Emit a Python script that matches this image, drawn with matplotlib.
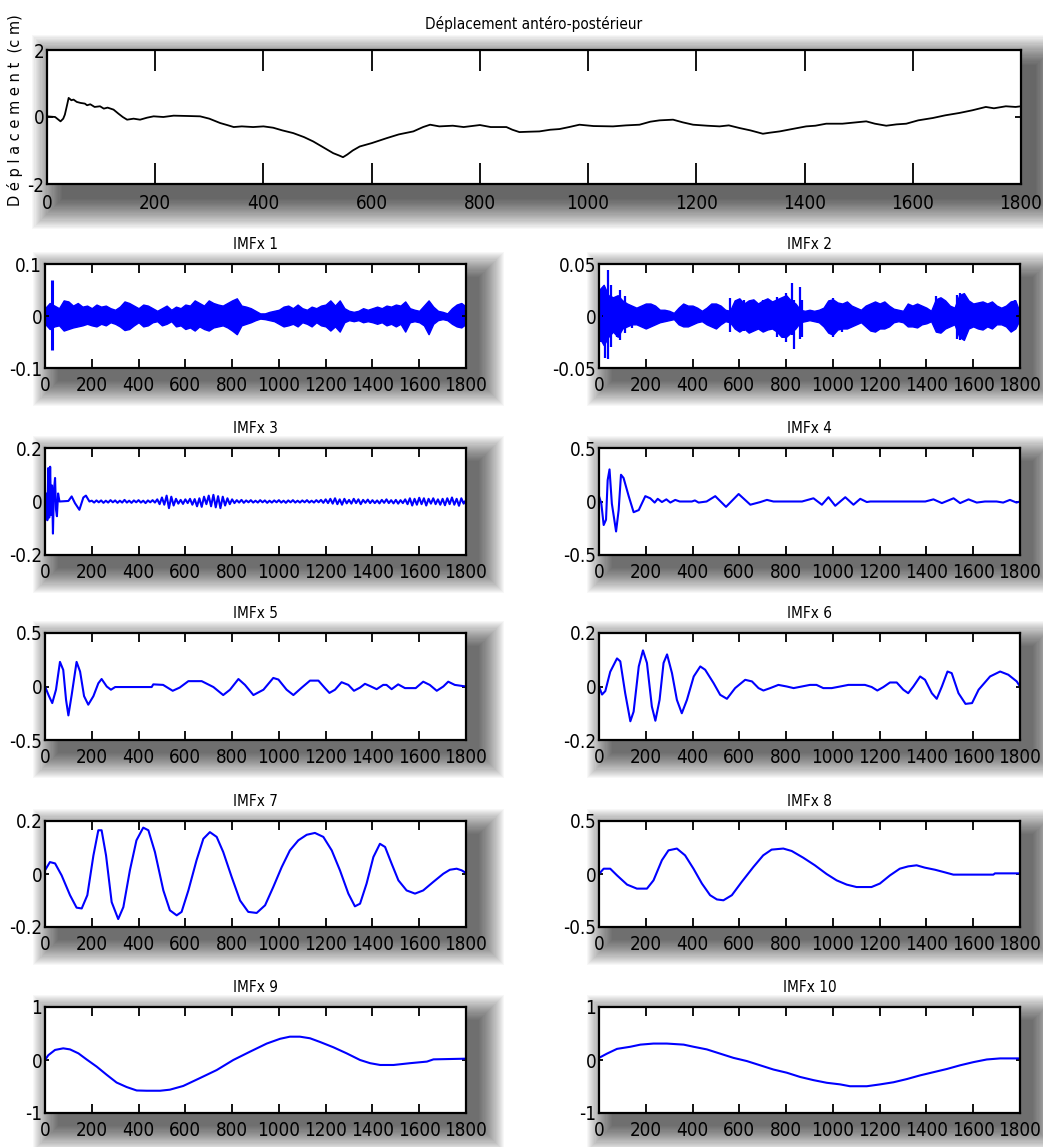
import numpy as np
import matplotlib
matplotlib.use("Agg")
import matplotlib.pyplot as plt
from matplotlib.patches import Rectangle
from matplotlib import font_manager as fm

# ---------------- data ----------------
top_title = "Déplacement antéro-postérieur"
top_ylabel = "D é p l a c e m e n t  (c m)"
x_ticks = [0, 200, 400, 600, 800, 1000, 1200, 1400, 1600, 1800]
x_ticklabels = ["0", "200", "400", "600", "800", "1000", "1200", "1400", "1600", "1800"]

top_t = [0, 15, 25, 30, 33, 37, 40, 45, 49, 55,
         62, 70, 74, 80, 88, 98, 105, 112, 123, 132,
         140, 148, 160, 172, 185, 197, 215, 234, 260, 283,
         300, 320, 335, 345, 360, 381, 400, 418, 435, 455,
         475, 492, 510, 529, 540, 547, 555, 565, 578, 600,
         628, 650, 677, 695, 708, 725, 750, 770, 800, 820,
         849, 860, 873, 890, 910, 930, 947, 965, 984, 1010,
         1046, 1070, 1095, 1115, 1132, 1157, 1175, 1194, 1220, 1243,
         1260, 1280, 1300, 1323, 1335, 1354, 1380, 1403, 1420, 1440,
         1470, 1514, 1530, 1551, 1570, 1588, 1610, 1637, 1660, 1686,
         1710, 1735, 1750, 1772, 1790, 1800]
top_v = [0.02, 0.0, -0.13, -0.05, 0.07, 0.35, 0.57, 0.5, 0.52, 0.45,
         0.42, 0.4, 0.35, 0.38, 0.3, 0.32, 0.25, 0.28, 0.22, 0.1,
         0.0, -0.08, -0.05, -0.08, -0.02, 0.02, 0.0, 0.04, 0.03, 0.02,
         -0.05, -0.18, -0.25, -0.3, -0.28, -0.3, -0.28, -0.32, -0.4, -0.48,
         -0.6, -0.73, -0.9, -1.08, -1.15, -1.2, -1.12, -1.0, -0.88, -0.78,
         -0.63, -0.52, -0.43, -0.3, -0.23, -0.28, -0.26, -0.3, -0.24, -0.3,
         -0.3, -0.38, -0.45, -0.44, -0.43, -0.38, -0.36, -0.3, -0.23, -0.27,
         -0.28, -0.25, -0.23, -0.14, -0.1, -0.08, -0.16, -0.23, -0.26, -0.28,
         -0.25, -0.33, -0.4, -0.5, -0.47, -0.43, -0.35, -0.28, -0.26, -0.2,
         -0.2, -0.13, -0.2, -0.26, -0.22, -0.2, -0.1, -0.03, 0.05, 0.12,
         0.2, 0.3, 0.26, 0.32, 0.3, 0.32]

imf_titles = ["IMFx 1", "IMFx 2", "IMFx 3", "IMFx 4", "IMFx 5",
              "IMFx 6", "IMFx 7", "IMFx 8", "IMFx 9", "IMFx 10"]
imf_ylims = [0.1, 0.05, 0.2, 0.5, 0.5, 0.2, 0.2, 0.5, 1.0, 1.0]
imf_yticklabels = [["-0.1", "0", "0.1"], ["-0.05", "0", "0.05"], ["-0.2", "0", "0.2"],
                   ["-0.5", "0", "0.5"], ["-0.5", "0", "0.5"], ["-0.2", "0", "0.2"],
                   ["-0.2", "0", "0.2"], ["-0.5", "0", "0.5"], ["-1", "0", "1"], ["-1", "0", "1"]]

# IMF 1 and 2: envelopes of the dense oscillation, sampled every 20 points
band_t = list(range(0, 1801, 20))
imf1_upper = [0.015, 0.025, 0.02, 0.015, 0.03, 0.028, 0.02, 0.025, 0.018, 0.02,
              0.015, 0.022, 0.018, 0.02, 0.015, 0.012, 0.018, 0.028, 0.025, 0.02,
              0.015, 0.022, 0.02, 0.015, 0.01, 0.015, 0.02, 0.012, 0.018, 0.015,
              0.022, 0.02, 0.03, 0.025, 0.02, 0.03, 0.025, 0.022, 0.02, 0.025,
              0.03, 0.034, 0.02, 0.018, 0.015, 0.01, 0.005, 0.005, 0.008, 0.01,
              0.012, 0.018, 0.02, 0.015, 0.022, 0.015, 0.012, 0.018, 0.015, 0.02,
              0.022, 0.03, 0.02, 0.03, 0.015, 0.01, 0.008, 0.01, 0.015, 0.012,
              0.015, 0.018, 0.015, 0.02, 0.018, 0.022, 0.02, 0.028, 0.015, 0.012,
              0.01, 0.02, 0.03, 0.018, 0.01, 0.008, 0.005, 0.015, 0.022, 0.025,
              0.018]
imf1_lower = [-0.015, -0.025, -0.02, -0.018, -0.028, -0.025, -0.022, -0.02, -0.018, -0.015,
              -0.018, -0.02, -0.015, -0.018, -0.012, -0.015, -0.02, -0.027, -0.025, -0.018,
              -0.012, -0.02, -0.018, -0.012, -0.01, -0.018, -0.015, -0.01, -0.02, -0.018,
              -0.025, -0.022, -0.028, -0.02, -0.025, -0.028, -0.022, -0.02, -0.018, -0.022,
              -0.028, -0.035, -0.018, -0.015, -0.012, -0.008, -0.005, -0.006, -0.008, -0.01,
              -0.015, -0.02, -0.018, -0.015, -0.02, -0.012, -0.015, -0.02, -0.012, -0.018,
              -0.02, -0.028, -0.02, -0.03, -0.012, -0.008, -0.01, -0.008, -0.012, -0.01,
              -0.012, -0.015, -0.012, -0.018, -0.015, -0.02, -0.015, -0.03, -0.012, -0.01,
              -0.012, -0.018, -0.035, -0.015, -0.008, -0.006, -0.008, -0.015, -0.02, -0.022,
              -0.015]
imf1_spike_t = [30]
imf1_spike_lo = [-0.065]
imf1_spike_hi = [0.07]

imf2_upper = [0.025, 0.03, 0.02, 0.018, 0.02, 0.015, 0.012, 0.01, 0.008, 0.01,
              0.012, 0.012, 0.01, 0.006, 0.006, 0.005, 0.003, 0.008, 0.012, 0.01,
              0.01, 0.008, 0.005, 0.008, 0.012, 0.012, 0.01, 0.006, 0.005, 0.015,
              0.017, 0.012, 0.015, 0.016, 0.012, 0.015, 0.017, 0.014, 0.016, 0.018,
              0.02, 0.015, 0.012, 0.006, 0.005, 0.006, 0.005, 0.006, 0.008, 0.015,
              0.016, 0.013, 0.012, 0.014, 0.01, 0.008, 0.006, 0.01, 0.012, 0.014,
              0.012, 0.014, 0.01, 0.007, 0.006, 0.005, 0.012, 0.01, 0.012, 0.01,
              0.008, 0.005, 0.016, 0.018, 0.015, 0.01, 0.008, 0.02, 0.022, 0.015,
              0.012, 0.013, 0.014, 0.012, 0.014, 0.01, 0.008, 0.01, 0.014, 0.015,
              0.003]
imf2_lower = [-0.02, -0.028, -0.02, -0.015, -0.02, -0.012, -0.01, -0.008, -0.008, -0.01,
              -0.012, -0.01, -0.008, -0.006, -0.005, -0.004, -0.003, -0.008, -0.01, -0.01,
              -0.008, -0.006, -0.005, -0.008, -0.01, -0.012, -0.008, -0.005, -0.006, -0.012,
              -0.015, -0.012, -0.016, -0.014, -0.012, -0.015, -0.013, -0.012, -0.015, -0.02,
              -0.02, -0.016, -0.012, -0.006, -0.005, -0.004, -0.005, -0.006, -0.01, -0.016,
              -0.018, -0.013, -0.012, -0.012, -0.01, -0.008, -0.006, -0.01, -0.014, -0.015,
              -0.012, -0.012, -0.01, -0.006, -0.005, -0.006, -0.01, -0.01, -0.011, -0.008,
              -0.007, -0.005, -0.015, -0.016, -0.012, -0.01, -0.008, -0.02, -0.023, -0.012,
              -0.01, -0.012, -0.013, -0.01, -0.012, -0.008, -0.008, -0.01, -0.015, -0.012,
              -0.003]
imf2_spike_t = [10, 25, 40, 50, 75, 90, 110, 140, 560, 620, 700, 760, 790, 800,
                825, 835, 860, 870, 1000, 1040, 1440, 1530, 1545, 1780]
imf2_spike_lo = [-0.025, -0.04, -0.041, -0.03, -0.02, -0.023, -0.016, -0.012, -0.015, -0.014,
                 -0.012, -0.02, -0.015, -0.025, -0.018, -0.032, -0.022, -0.02, -0.02, -0.015,
                 -0.012, -0.022, -0.023, -0.01]
imf2_spike_hi = [0.025, 0.025, 0.044, 0.03, 0.018, 0.025, 0.019, 0.01, 0.017, 0.015,
                 0.015, 0.018, 0.015, 0.022, 0.032, 0.015, 0.028, 0.015, 0.017, 0.012,
                 0.019, 0.02, 0.022, 0.015]

# IMF 3
imf3_head_t = [0, 5, 10, 14, 18, 22, 26, 30, 34, 38, 43, 47, 51, 56, 62,
               100, 114, 128, 147, 164, 175, 190]
imf3_head_v = [0, 0.03, -0.07, 0.125, -0.06, 0.13, -0.05, 0.06, -0.12, 0.04, 0.088, -0.03, -0.055, 0.03, 0,
               0.002, 0.019, -0.006, -0.031, 0.015, 0.022, 0]
imf3_body_t = list(range(200, 1801, 10))
imf3_body_v = [0.003, -0.004, 0.004, -0.003, 0.004, -0.005, 0.003, -0.004, 0.005, -0.003,
               0.004, -0.005, 0.003, -0.004, 0.006, -0.004, 0.003, -0.005, 0.004, -0.003,
               0.005, -0.004, 0.003, -0.006, 0.004, -0.003, 0.005, -0.004, 0.008, -0.010,
               0.015, -0.012, 0.022, -0.025, 0.018, -0.015, 0.010, -0.008, 0.006, -0.009,
               0.008, -0.006, 0.010, -0.012, 0.009, -0.018, 0.012, -0.020, 0.018, -0.010,
               0.022, -0.018, 0.025, -0.022, 0.020, -0.025, 0.018, -0.015, 0.012, -0.010,
               0.008, -0.006, 0.005, -0.004, 0.006, -0.005, 0.004, -0.003, 0.005, -0.004,
               0.003, -0.004, 0.005, -0.003, 0.004, -0.005, 0.003, -0.004, 0.004, -0.003,
               0.005, -0.004, 0.003, -0.005, 0.004, -0.003, 0.005, -0.004, 0.003, -0.004,
               0.004, -0.003, 0.005, -0.004, 0.003, -0.004, 0.005, -0.003, 0.006, -0.005,
               0.008, -0.006, 0.010, -0.008, 0.012, -0.010, 0.008, -0.012, 0.010, -0.007,
               0.006, -0.008, 0.010, -0.006, 0.008, -0.010, 0.006, -0.005, 0.007, -0.006,
               0.005, -0.006, 0.004, -0.007, 0.006, -0.005, 0.008, -0.006, 0.005, -0.007,
               0.006, -0.008, 0.005, -0.006, 0.008, -0.010, 0.012, -0.015, 0.010, -0.012,
               0.014, -0.010, 0.012, -0.015, 0.010, -0.008, 0.012, -0.010, 0.008, -0.012,
               0.010, -0.014, 0.012, -0.010, 0.015, -0.012, 0.010, -0.016, 0.012, -0.008,
               0.005]

# IMF 4
imf4_t = [0, 10, 20, 30, 37, 45, 55, 73, 84, 94, 105, 127, 148, 170, 198, 219, 238, 251, 269, 288,
          305, 326, 345, 397, 410, 426, 460, 497, 543, 597, 647, 690, 718, 746, 868, 917, 953, 981,
          1010, 1053, 1088, 1117, 1145, 1160, 1395, 1430, 1466, 1516, 1544, 1580, 1615, 1650,
          1700, 1728, 1757, 1785, 1800]
imf4_v = [0.05, -0.02, -0.22, -0.17, 0.2, 0.3, -0.02, -0.28, -0.08, 0.25, 0.22, 0.05, -0.1, -0.08,
          0.05, 0.03, -0.01, 0.025, -0.005, 0.02, -0.01, 0.015, 0.0, 0.0, 0.01, -0.01, 0.0, 0.05,
          -0.05, 0.07, -0.03, -0.005, 0.015, 0.0, 0.0, 0.03, -0.03, 0.04, -0.04, 0.04, -0.03, 0.025,
          -0.005, 0.0, 0.0, 0.02, -0.015, 0.03, -0.015, 0.02, -0.01, 0.0, 0.0, -0.01, 0.015, -0.01, 0.0]

# IMF 5
imf5_t = [0, 17, 31, 47, 64, 78, 90, 100, 114, 135, 150, 167, 185, 207, 228, 242, 264, 282, 300,
          456, 463, 505, 546, 576, 613, 670, 720, 762, 791, 827, 855, 891, 934, 976, 998, 1033,
          1062, 1098, 1133, 1169, 1197, 1216, 1240, 1268, 1297, 1321, 1347, 1368, 1389, 1418,
          1446, 1460, 1482, 1510, 1539, 1560, 1585, 1617, 1645, 1675, 1703, 1724, 1752, 1800]
imf5_v = [0.0, -0.09, -0.155, -0.03, 0.23, 0.155, -0.125, -0.27, -0.08, 0.23, 0.14, -0.09, -0.17,
          -0.09, 0.03, 0.07, 0.0, -0.03, -0.005, -0.005, 0.02, 0.015, -0.04, -0.01, 0.05, 0.05,
          -0.005, -0.08, -0.03, 0.07, 0.015, -0.08, -0.03, 0.08, 0.065, -0.03, -0.08, -0.01, 0.055,
          0.055, -0.015, -0.06, -0.03, 0.04, 0.015, -0.04, -0.01, 0.025, 0.005, -0.025, 0.015,
          0.015, -0.025, 0.02, -0.015, -0.015, -0.015, 0.045, 0.015, -0.04, 0.0, 0.045, 0.015, 0.0]

# IMF 6
imf6_t = [0, 13, 27, 48, 77, 91, 112, 134, 148, 170, 188, 205, 226, 241, 259, 276, 291, 312, 333,
          354, 376, 405, 433, 454, 490, 518, 547, 582, 625, 654, 682, 703, 732, 767, 803, 832,
          867, 902, 930, 959, 995, 1031, 1066, 1137, 1166, 1190, 1216, 1244, 1273, 1301, 1322,
          1344, 1373, 1394, 1423, 1444, 1466, 1490, 1508, 1537, 1567, 1595, 1623, 1672, 1715,
          1750, 1786, 1800]
imf6_v = [0.0, -0.03, -0.017, 0.055, 0.105, 0.094, -0.025, -0.13, -0.094, 0.075, 0.135, 0.088,
          -0.075, -0.128, -0.05, 0.088, 0.12, 0.05, -0.05, -0.1, -0.05, 0.0375, 0.075, 0.0625,
          0.0125, -0.031, -0.046, -0.006, 0.025, 0.019, -0.006, -0.015, -0.006, 0.006, 0.0,
          -0.006, 0.0, 0.006, 0.006, -0.006, -0.006, 0.0, 0.006, 0.006, -0.002, -0.015, -0.002,
          0.015, 0.015, -0.012, -0.025, 0.0, 0.0375, 0.025, -0.025, -0.046, 0.0, 0.056, 0.05,
          -0.025, -0.065, -0.062, -0.012, 0.0375, 0.056, 0.044, 0.019, 0.0]

# IMF 7
imf7_t = [0, 21, 43, 71, 107, 135, 157, 181, 207, 228, 242, 261, 285, 313, 335, 363, 391, 420,
          442, 470, 506, 534, 563, 584, 613, 648, 677, 705, 734, 762, 798, 834, 869, 905, 941,
          976, 1012, 1047, 1083, 1119, 1154, 1190, 1226, 1261, 1297, 1325, 1347, 1375, 1404,
          1432, 1454, 1482, 1511, 1546, 1582, 1617, 1660, 1703, 1731, 1760, 1781, 1800]
imf7_v = [0.014, 0.045, 0.04, -0.005, -0.08, -0.127, -0.13, -0.08, 0.07, 0.165, 0.165, 0.07,
          -0.106, -0.17, -0.125, 0.014, 0.127, 0.175, 0.165, 0.083, -0.062, -0.137, -0.156,
          -0.143, -0.062, 0.052, 0.133, 0.158, 0.14, 0.083, -0.011, -0.1, -0.143, -0.147, -0.118,
          -0.049, 0.026, 0.089, 0.127, 0.148, 0.155, 0.14, 0.089, 0.014, -0.074, -0.122, -0.112,
          -0.036, 0.064, 0.114, 0.102, 0.039, -0.024, -0.062, -0.074, -0.062, -0.03, 0.001,
          0.016, 0.02, 0.014, 0.004]

# IMF 8
imf8_t = [0, 20, 48, 77, 120, 162, 205, 233, 269, 297, 333, 368, 404, 440, 475, 504, 532, 568,
          610, 660, 702, 738, 788, 824, 873, 923, 973, 1016, 1059, 1101, 1165, 1201, 1244, 1286,
          1322, 1358, 1393, 1437, 1473, 1515, 1686, 1693, 1800]
imf8_v = [0.0, 0.05, 0.05, -0.013, -0.1, -0.138, -0.138, -0.06, 0.13, 0.223, 0.24, 0.176, 0.05,
          -0.09, -0.2, -0.24, -0.248, -0.2, -0.075, 0.066, 0.176, 0.23, 0.24, 0.217, 0.154, 0.082,
          0.0, -0.06, -0.1, -0.123, -0.123, -0.09, -0.013, 0.05, 0.072, 0.082, 0.06, 0.04, 0.019,
          -0.006, -0.006, 0.006, 0.006]

# IMF 9
imf9_t = [0, 14, 43, 78, 107, 143, 178, 221, 264, 306, 349, 392, 435, 492, 534, 591, 663, 734,
          805, 876, 948, 1005, 1047, 1090, 1133, 1176, 1233, 1290, 1347, 1390, 1433, 1490, 1561,
          1633, 1661, 1800]
imf9_v = [0.0, 0.09, 0.19, 0.22, 0.2, 0.125, 0.01, -0.125, -0.28, -0.425, -0.51, -0.575, -0.58,
          -0.58, -0.56, -0.49, -0.34, -0.19, 0.0, 0.156, 0.31, 0.4, 0.44, 0.44, 0.41, 0.34, 0.24,
          0.125, 0.0, -0.06, -0.094, -0.094, -0.06, -0.03, 0.012, 0.025]

# IMF 10
imf10_t = [0, 34, 77, 134, 177, 233, 290, 362, 404, 461, 518, 575, 632, 689, 746, 803, 860, 917,
           974, 1031, 1073, 1145, 1202, 1259, 1316, 1373, 1430, 1487, 1544, 1601, 1658, 1715, 1800]
imf10_v = [0.04, 0.12, 0.21, 0.25, 0.29, 0.31, 0.31, 0.29, 0.25, 0.2, 0.12, 0.04, -0.02, -0.1,
           -0.18, -0.24, -0.32, -0.38, -0.43, -0.46, -0.495, -0.495, -0.46, -0.42, -0.36, -0.29,
           -0.23, -0.17, -0.1, -0.04, 0.01, 0.03, 0.03]

# ---------------- font: look for an installed condensed sans face ----------------
_rank = {"ultra-condensed": 0, "extra-condensed": 1, "condensed": 2, "semi-condensed": 4}


def _stretch_rank(f):
    st = f.stretch
    if isinstance(st, (int, float)):
        return 0 if st <= 200 else (1 if st <= 300 else (2 if st <= 400 else None))
    st = str(st).lower()
    if st in _rank:
        return _rank[st]
    nm = f.name.lower()
    if "extracondensed" in nm or "extra condensed" in nm:
        return 1
    if "narrow" in nm or "condensed" in nm:
        return 2
    return None


def _is_regular(f):
    w = f.weight
    if isinstance(w, str):
        w = {"normal": 400, "regular": 400, "book": 400, "medium": 500}.get(w.lower(), 700)
    return 350 <= w <= 500 and f.style == "normal"


cands = []
for f in fm.fontManager.ttflist:
    r = _stretch_rank(f)
    if r is None or not _is_regular(f):
        continue
    nm = f.name.lower()
    if "mono" in nm or "serif" in nm or "cjk" in nm:
        continue
    cands.append((abs(r - 1), f.fname))
cands.sort()
if cands:
    NARROW = fm.FontProperties(fname=cands[0][1])
else:
    NARROW = fm.FontProperties(family="DejaVu Sans")

W, H = 1043, 1147
fig = plt.figure(figsize=(W / 100, H / 100), dpi=100)
fig.patch.set_facecolor("white")

BLUE = "#0000ff"
TICK_FS = 13.5
TITLE_FS = 11


def fp(size):
    p = NARROW.copy()
    p.set_size(size)
    return p


def px_axes(left, top, right, bottom):
    return fig.add_axes([left / W, 1 - bottom / H, (right - left) / W, (bottom - top) / H])


def add_shadow(left, top, right, bottom, off=13, layers=24, step=1.1, alpha=0.03):
    for i in range(layers):
        g = i * step
        x0 = left + off - g
        y0 = bottom + off + g
        w = (right - left) + 2 * g
        h = (bottom - top) + 2 * g
        fig.patches.append(Rectangle((x0 / W, 1 - y0 / H), w / W, h / H,
                                     transform=fig.transFigure, facecolor="black",
                                     edgecolor="none", alpha=alpha, zorder=-5))


def style_axes(ax, xlen, ylen, yticklabels, yticks, xpad):
    ax.set_xlim(0, 1800)
    ax.set_xticks(x_ticks)
    ax.set_xticklabels(x_ticklabels, fontproperties=fp(TICK_FS))
    ax.set_yticks(yticks)
    ax.set_yticklabels(yticklabels, fontproperties=fp(TICK_FS))
    ax.tick_params(axis="x", direction="in", top=True, bottom=True, length=xlen, width=1.3, pad=xpad)
    ax.tick_params(axis="y", direction="in", left=True, right=True, length=ylen, width=1.3, pad=2)
    for s in ax.spines.values():
        s.set_linewidth(1.6)
    ax.set_facecolor("white")


# ---- top panel ----
tl, tt, tr, tb = 47, 50, 1021, 184
add_shadow(tl, tt, tr, tb, off=15, layers=26, step=1.2)
ax0 = px_axes(tl, tt, tr, tb)
ax0.plot(top_t, top_v, color="black", lw=1.3)
ax0.set_ylim(-2, 2)
style_axes(ax0, 15, 4.5, ["-2", "0", "2"], [-2, 0, 2], 7)
ax0.set_title(top_title, fontproperties=fp(TITLE_FS), pad=15)
fig.text(15 / W, 1 - 110 / H, top_ylabel, rotation=90, ha="center", va="center",
         fontsize=10.5, family="DejaVu Sans")

# ---- IMF panels ----
col_left = [45, 599]
col_right = [466, 1020]
row_top = [264, 448, 633, 821, 1007]
row_bottom = [368, 555, 740, 927, 1113]

series = {
    2: (imf3_head_t + imf3_body_t, imf3_head_v + imf3_body_v),
    3: (imf4_t, imf4_v),
    4: (imf5_t, imf5_v),
    5: (imf6_t, imf6_v),
    6: (imf7_t, imf7_v),
    7: (imf8_t, imf8_v),
    8: (imf9_t, imf9_v),
    9: (imf10_t, imf10_v),
}

for k in range(10):
    r, c = divmod(k, 2)
    L, T, R, B = col_left[c], row_top[r], col_right[c], row_bottom[r]
    add_shadow(L, T, R, B)
    ax = px_axes(L, T, R, B)
    lim = imf_ylims[k]
    if k == 0:
        ax.fill_between(band_t, imf1_lower, imf1_upper, color=BLUE, lw=1.0)
        ax.vlines(imf1_spike_t, imf1_spike_lo, imf1_spike_hi, color=BLUE, lw=2.2)
    elif k == 1:
        ax.fill_between(band_t, imf2_lower, imf2_upper, color=BLUE, lw=1.0)
        ax.vlines(imf2_spike_t, imf2_spike_lo, imf2_spike_hi, color=BLUE, lw=1.6)
    else:
        t, v = series[k]
        ax.plot(t, v, color=BLUE, lw=1.5)
    ax.set_ylim(-lim, lim)
    style_axes(ax, 6.5, 3, imf_yticklabels[k], [-lim, 0, lim], 6)
    ax.set_title(imf_titles[k], fontproperties=fp(TITLE_FS), pad=11)

fig.savefig("out.png", dpi=100, facecolor="white")
